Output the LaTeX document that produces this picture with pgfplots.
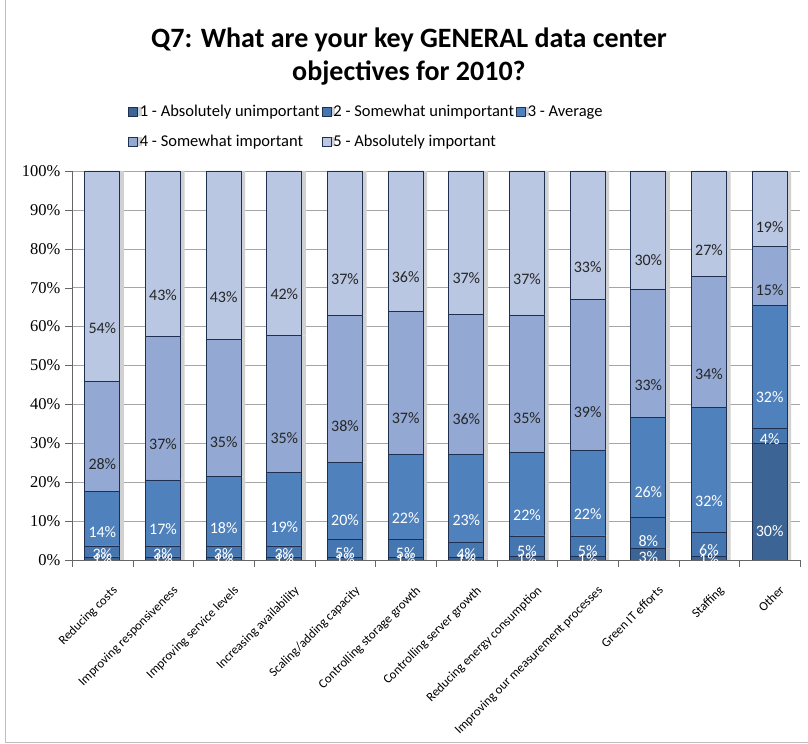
\documentclass[border=0pt]{standalone}
\usepackage{pgfplots}
\usepackage{pgfplotstable}
\pgfplotsset{compat=1.18}
\usepackage{fontspec}
\setmainfont{Carlito}
\newfontfamily\tickfont{Liberation Serif}

\definecolor{sone}{HTML}{3C6494}
\definecolor{stwo}{HTML}{4676B0}
\definecolor{sthree}{HTML}{4F81BD}
\definecolor{sfour}{HTML}{93A9D4}
\definecolor{sfive}{HTML}{BAC7E2}
\definecolor{barline}{HTML}{1F2F4F}

% shares per answer (1 = absolutely unimportant ... 5 = absolutely important)
\pgfplotstableread{
x  s1   s2   s3   s4   s5
0  0.8  2.8  14.1 28.3 54.0
1  0.8  2.8  17.0 36.8 42.6
2  0.8  2.8  17.9 35.2 43.3
3  0.8  2.8  19.0 35.1 42.3
4  0.6  4.6  19.8 37.9 37.1
5  0.6  4.7  21.9 36.6 36.2
6  0.6  4.0  22.6 36.0 36.8
7  0.9  5.3  21.6 35.2 37.0
8  0.9  5.3  22.1 38.7 33.0
9  2.9  8.0  25.8 32.9 30.4
10 0.9  6.1  32.3 33.7 27.0
11 30.1 3.8  31.6 15.2 19.3
}\answers

% centre the labels inside each stacked segment
% (the shift ends up applied twice, hence a quarter of 3.89bp per %)
\pgfplotsset{
  /pgfplots/halfseg/.code={%
    \pgfkeys{/pgf/fpu=true,/pgf/fpu/output format=fixed}%
    \pgfmathsetmacro\halfseg{\pgfplotspointmeta*0.9725}%
    \pgfkeys{/pgf/fpu=false}%
  },
}

\begin{document}
\begin{tikzpicture}
\path[use as bounding box] (0,0) rectangle (808bp,744bp);
\draw[black!25] (5bp,744bp) -- (5bp,2bp) -- (808bp,2bp);

\node[font=\bfseries\fontsize{28bp}{33bp}\selectfont, align=center]
  at (409bp,687bp) {Q7: What are your key GENERAL data center\\objectives for 2010?};

\begin{axis}[
  at={(72bp,184bp)}, anchor=south west,
  scale only axis, width=728bp, height=389bp,
  ybar stacked, bar width=35bp,
  xmin=-0.5, xmax=11.5, ymin=0, ymax=100,
  axis x line*=bottom, axis y line*=left,
  axis line style={black!60},
  tick style={black!60},
  tick align=outside, major tick length=7bp,
  ytick={0,10,...,100},
  yticklabel={\pgfmathprintnumber{\tick}\%},
  /pgf/number format/assume math mode=true,
  yticklabel style={font=\tickfont\fontsize{16.5bp}{19bp}\selectfont, xshift=-1bp},
  ymajorgrids, grid style={black!35},
  xtick={-0.5,0.5,...,11.5}, xticklabels={},
  extra x ticks={0,...,11},
  extra x tick labels={Reducing costs, Improving responsiveness, Improving service levels,
    Increasing availability, Scaling/adding capacity, Controlling storage growth,
    Controlling server growth, Reducing energy consumption,
    Improving our measurement processes, Green IT efforts, Staffing, Other},
  extra x tick style={major tick length=0pt,
    xticklabel style={rotate=45, anchor=north east, font=\fontsize{12.8bp}{15bp}\selectfont,
      inner sep=1bp, xshift=-10bp, yshift=-23bp}},
  nodes near coords={\pgfmathprintnumber[fixed,precision=0]{\pgfplotspointmeta}\%},
  nodes near coords align={center},
  every node near coord/.append style={font=\fontsize{16bp}{18bp}\selectfont,
    /pgfplots/halfseg, yshift=-\halfseg bp, inner sep=0pt},
  legend columns=3,
  legend cell align=left,
  legend style={at={(0.0769,1.175)}, anchor=north west, draw=none, fill=none,
    inner sep=0pt, font=\fontsize{16.5bp}{19bp}\selectfont, row sep=13bp,
    /tikz/every even column/.append style={column sep=0bp}},
  legend image code/.code={\draw[#1] (0bp,-4.5bp) rectangle (9bp,4.5bp);},
  every axis plot/.append style={draw=barline, line width=0.7bp,
    preaction={fill=black!18, draw=none, transform canvas={xshift=4bp}}},
]
\addplot[fill=sone, every node near coord/.append style={text=white}] table[x=x,y=s1] {\answers};
\addlegendentry{1 - Absolutely unimportant}
\addplot[fill=stwo, every node near coord/.append style={text=white}] table[x=x,y=s2] {\answers};
\addlegendentry{2 - Somewhat unimportant}
\addplot[fill=sthree, every node near coord/.append style={text=white}] table[x=x,y=s3] {\answers};
\addlegendentry{3 - Average}
\addplot[fill=sfour, every node near coord/.append style={text=black!85}] table[x=x,y=s4] {\answers};
\addlegendentry{4 - Somewhat important}
\addplot[fill=sfive, every node near coord/.append style={text=black!85}] table[x=x,y=s5] {\answers};
\addlegendentry{5 - Absolutely important}
\end{axis}
\end{tikzpicture}
\end{document}
